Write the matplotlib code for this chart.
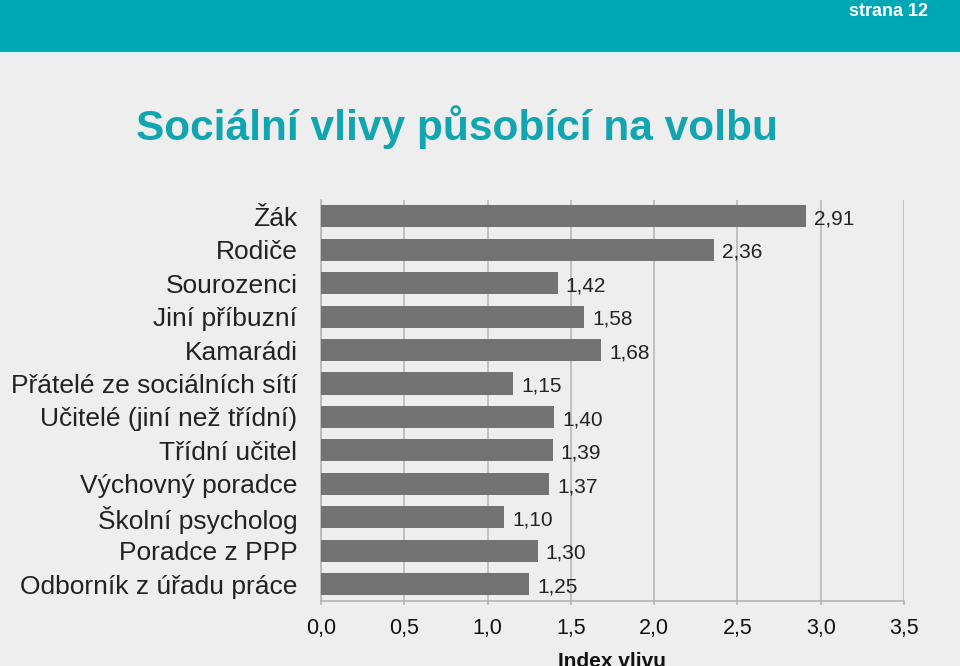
import matplotlib
matplotlib.use("Agg")
import matplotlib.pyplot as plt
from matplotlib.patches import Rectangle

categories = ["Žák", "Rodiče", "Sourozenci", "Jiní příbuzní", "Kamarádi",
              "Přátelé ze sociálních sítí", "Učitelé (jiní než třídní)",
              "Třídní učitel", "Výchovný poradce", "Školní psycholog",
              "Poradce z PPP", "Odborník z úřadu práce"]
values = [2.91, 2.36, 1.42, 1.58, 1.68, 1.15, 1.40, 1.39, 1.37, 1.10, 1.30, 1.25]
xticks = [0.0, 0.5, 1.0, 1.5, 2.0, 2.5, 3.0, 3.5]
title = "Sociální vlivy působící na volbu"
xlabel = "Index vlivu"
page_label = "strana 12"

def fmt(v, d):
    return f"{v:.{d}f}".replace(".", ",")

plt.rcParams['font.family'] = ['Liberation Sans', 'DejaVu Sans']
bg = "#eeeeee"
teal = "#00a8b5"
fig = plt.figure(figsize=(9.6, 6.66), dpi=100, facecolor=bg)

# top band
fig.patches.append(Rectangle((0, 1 - 52/666), 1, 52/666, transform=fig.transFigure,
                             facecolor=teal, edgecolor="none", zorder=0))
fig.patches.append(Rectangle((0, 1 - 55/666), 1, 3/666, transform=fig.transFigure,
                             facecolor="#dff2f3", edgecolor="none", zorder=0))
fig.text(928/960, 1 - 11/666, page_label, color="white", fontsize=13, fontweight="bold",
         ha="right", va="center")
fig.text(136/960, 1 - 127/666, title, color="#10a5b0", fontsize=30.5, fontweight="bold",
         ha="left", va="center")

ax = fig.add_axes([321/960, 1 - 601/666, (904 - 321)/960, (601 - 199.5)/666])
ax.set_facecolor(bg)
y = list(range(len(categories)))
ax.barh(y, values, height=0.66, color="#737373", zorder=3)
ax.set_ylim(len(categories) - 0.5, -0.5)
ax.set_xlim(0, 3.5)
ax.set_yticks(y)
ax.set_yticklabels(categories, fontsize=19, color="#222222")
ax.tick_params(axis="y", length=0, pad=17)
ax.set_xticks(xticks)
ax.set_xticklabels([fmt(t, 1) for t in xticks], fontsize=15.5, color="#111111")
ax.tick_params(axis="x", length=3, color="#b5b5b5", width=1.2, pad=9)
ax.grid(axis="x", color="#b8b8b8", linewidth=1.2, zorder=0)
for s in ["top", "right"]:
    ax.spines[s].set_visible(False)
for s in ["left", "bottom"]:
    ax.spines[s].set_color("#b5b5b5")
    ax.spines[s].set_linewidth(1.2)
for yi, v in zip(y, values):
    ax.text(v + 0.05, yi + 0.08, fmt(v, 2), fontsize=15, color="#222222",
            ha="left", va="center", zorder=4)
ax.set_xlabel(xlabel, fontsize=15, fontweight="bold", color="#111111")
ax.xaxis.set_label_coords(0.5, -0.127)

fig.savefig("out.png", dpi=100, facecolor=bg)
